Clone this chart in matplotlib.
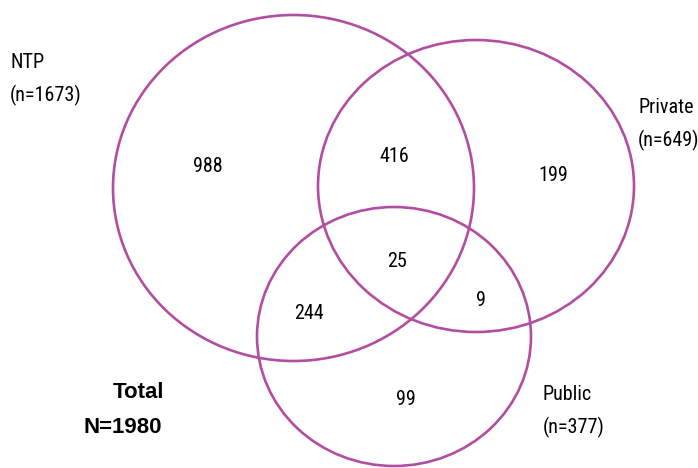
import matplotlib.pyplot as plt
from matplotlib.patches import Ellipse
from matplotlib import font_manager

# set names, counts and region values
set_names = ["NTP", "Private", "Public"]
set_counts = [1673, 649, 377]
region_labels = ["988", "416", "199", "25", "244", "9", "99"]
total = 1980

# ellipse geometry in pixel space: (cx, cy, width, height)
ellipses = [(293.5, 188, 361, 346), (476, 186, 316, 292), (394, 336.5, 274, 259)]
# text baselines in pixel space
region_pos = [(208, 172), (394, 162), (553, 181), (397, 267), (309, 319), (481, 306), (406, 405)]
name_pos = [(10, 68), (638, 113), (543, 400)]

# Arial-Narrow-like font if one is installed
installed = {f.name for f in font_manager.fontManager.ttflist}
narrow = None
for cand in ['Liberation Sans Narrow', 'Arial Narrow', 'Nimbus Sans Narrow',
             'Roboto Condensed', 'Archivo Narrow']:
    if cand in installed:
        narrow = cand
        break
if narrow:
    fam, fs = [narrow, 'DejaVu Sans'], 14.5
else:
    fam, fs = ['Liberation Sans', 'DejaVu Sans'], 13.5
plt.rcParams['font.family'] = fam
color = '#B24DA0'

fig = plt.figure(figsize=(6.98, 4.68), dpi=100)
ax = fig.add_axes([0, 0, 1, 1])
ax.set_xlim(0, 698)
ax.set_ylim(468, 0)
ax.axis('off')

for cx, cy, w, h in ellipses:
    ax.add_patch(Ellipse((cx, cy), w, h, fill=False, edgecolor=color, lw=1.9))

for (x, y), lab in zip(region_pos, region_labels):
    ax.text(x, y, lab, ha='center', va='baseline', fontsize=fs)

for (x, y), name, n in zip(name_pos, set_names, set_counts):
    ax.text(x, y, name, ha='left', va='baseline', fontsize=fs)
    ax.text(x, y + 33, f"(n={n})", ha='left', va='baseline', fontsize=fs)

ax.text(138.5, 398, "Total", ha='center', va='baseline', fontsize=16,
        fontweight='bold', family=['Liberation Sans', 'DejaVu Sans'])
ax.text(123, 433, f"N={total}", ha='center', va='baseline', fontsize=16,
        fontweight='bold', family=['Liberation Sans', 'DejaVu Sans'])

fig.savefig('out.png', dpi=100)
